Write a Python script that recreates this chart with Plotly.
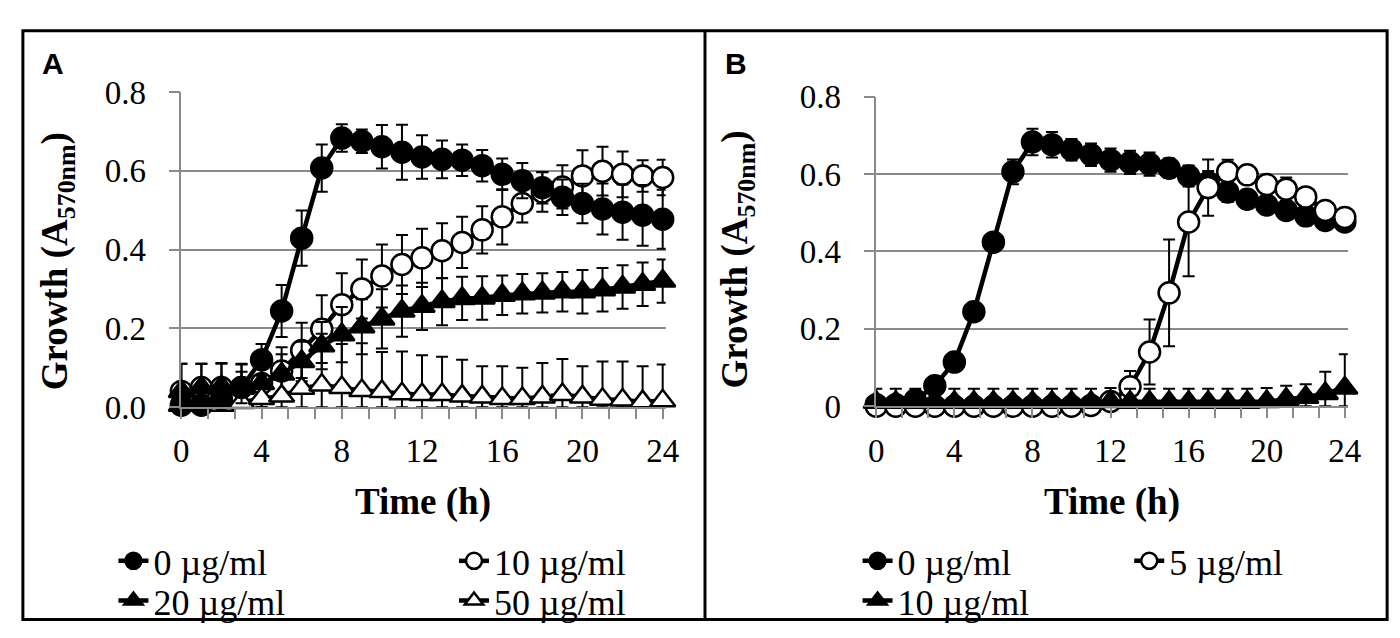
import numpy as np
import plotly.graph_objects as go
from plotly.subplots import make_subplots

hours = list(range(25))

# Panel A
a_names = ['0 µg/ml', '10 µg/ml', '20 µg/ml', '50 µg/ml']
a_0 = [0.005, 0.005, 0.02, 0.05, 0.12, 0.244, 0.429, 0.607, 0.683, 0.675, 0.661, 0.647, 0.635,
       0.629, 0.627, 0.613, 0.591, 0.575, 0.557, 0.533, 0.517, 0.503, 0.495, 0.487, 0.477]
a_0_err = [0.04, 0.04, 0.04, 0.04, 0.04, 0.066, 0.07, 0.06, 0.035, 0.03, 0.055, 0.07, 0.055,
           0.048, 0.04, 0.04, 0.04, 0.045, 0.04, 0.045, 0.05, 0.065, 0.07, 0.077, 0.075]
a_10 = [0.04, 0.05, 0.05, 0.05, 0.06, 0.092, 0.144, 0.198, 0.26, 0.3, 0.333, 0.362, 0.379,
        0.397, 0.418, 0.45, 0.483, 0.517, 0.546, 0.559, 0.587, 0.599, 0.591, 0.587, 0.583]
a_10_err = [0.07, 0.06, 0.06, 0.06, 0.06, 0.06, 0.07, 0.086, 0.08, 0.075, 0.08, 0.075, 0.074,
            0.07, 0.065, 0.06, 0.07, 0.048, 0.05, 0.055, 0.065, 0.062, 0.058, 0.04, 0.045]
a_20 = [0.04, 0.05, 0.052, 0.048, 0.06, 0.084, 0.116, 0.156, 0.184, 0.204, 0.224, 0.244, 0.256,
        0.268, 0.276, 0.277, 0.284, 0.288, 0.29, 0.293, 0.293, 0.298, 0.305, 0.312, 0.32]
a_20_err = [0.07, 0.06, 0.06, 0.06, 0.05, 0.05, 0.05, 0.06, 0.07, 0.07, 0.075, 0.065, 0.06,
            0.06, 0.055, 0.055, 0.05, 0.05, 0.05, 0.05, 0.055, 0.055, 0.055, 0.055, 0.055]
a_50 = [0.005, 0.005, 0.005, 0.012, 0.022, 0.028, 0.048, 0.056, 0.05, 0.042, 0.04, 0.034, 0.032,
        0.032, 0.028, 0.026, 0.022, 0.022, 0.026, 0.032, 0.026, 0.02, 0.018, 0.014, 0.016]
a_50_err = [0.03, 0.03, 0.03, 0.03, 0.03, 0.04, 0.06, 0.13, 0.11, 0.12, 0.1, 0.107, 0.1,
            0.096, 0.092, 0.078, 0.082, 0.078, 0.086, 0.09, 0.078, 0.096, 0.098, 0.09, 0.092]

# Panel B
b_names = ['0 µg/ml', '5 µg/ml', '10 µg/ml']
b_0 = [0.004, 0.004, 0.016, 0.053, 0.114, 0.244, 0.424, 0.606, 0.683, 0.676, 0.663, 0.65, 0.636,
       0.63, 0.626, 0.615, 0.595, 0.578, 0.554, 0.535, 0.52, 0.506, 0.492, 0.48, 0.476]
b_0_err = [0.02, 0.02, 0.02, 0.01, 0.01, 0.01, 0.023, 0.032, 0.034, 0.033, 0.028, 0.029, 0.03,
           0.03, 0.03, 0.025, 0.027, 0.03, 0.026, 0.023, 0.024, 0.022, 0.025, 0.023, 0.02]
b_5 = [0, 0, 0, 0, 0, 0, 0, 0, 0, 0, 0, 0.002, 0.012, 0.05, 0.14, 0.293, 0.476, 0.565, 0.606,
       0.598, 0.573, 0.561, 0.541, 0.506, 0.488]
b_5_err = [0, 0, 0, 0, 0, 0, 0, 0, 0, 0, 0, 0.005, 0.01, 0.041, 0.084, 0.138, 0.14, 0.073, 0.031,
           0.024, 0.02, 0.03, 0.02, 0.02, 0.015]
b_10 = [0.01, 0.01, 0.01, 0.01, 0.01, 0.01, 0.01, 0.01, 0.01, 0.01, 0.01, 0.01, 0.012, 0.01,
        0.01, 0.01, 0.01, 0.01, 0.01, 0.01, 0.012, 0.018, 0.023, 0.033, 0.047]
b_10_err = [0.035] * 22 + [0.034, 0.056, 0.087]

serif = 'Liberation Serif'

# marker style per series: (symbol, fill, size)
styles_a = [('circle', 'black', 21), ('circle', 'white', 21), ('triangle-up', 'black', 22), ('triangle-up', 'white', 22)]
styles_b = [('circle', 'black', 21), ('circle', 'white', 21), ('triangle-up', 'black', 22)]

fig = make_subplots(rows=1, cols=2)


def add_series(y, err, name, style, col, legend_id):
    y = np.array(y)
    err = np.array(err)
    sym, fill, size = style
    fig.add_trace(go.Scatter(
        x=hours, y=y, name=name, mode='lines+markers',
        line=dict(color='black', width=4.5),
        marker=dict(symbol=sym, color=fill, size=size, line=dict(color='black', width=2.5)),
        error_y=dict(type='data', array=err, arrayminus=np.minimum(err, y),
                     color='black', thickness=2, width=6),
        cliponaxis=False, legend=legend_id, showlegend=True,
    ), row=1, col=col)


# draw order: later on top
order_a = [1, 2, 3, 0]
legend_ids_a = ['legend', 'legend2', 'legend3', 'legend4']
series_a = [(a_0, a_0_err), (a_10, a_10_err), (a_20, a_20_err), (a_50, a_50_err)]
for i in order_a:
    add_series(series_a[i][0], series_a[i][1], a_names[i], styles_a[i], 1, legend_ids_a[i])

legend_ids_b = ['legend5', 'legend6', 'legend7']
series_b = [(b_0, b_0_err), (b_5, b_5_err), (b_10, b_10_err)]
for i in range(3):
    add_series(series_b[i][0], series_b[i][1], b_names[i], styles_b[i], 2, legend_ids_b[i])

W, H = 1400, 638


def px(x):
    return x / W


def py(y):
    return 1 - y / H


grey = '#8a8a8a'
xcommon = dict(
    tickmode='array', tickvals=[0, 4, 8, 12, 16, 20, 24], ticks='outside', ticklen=10,
    tickcolor=grey, tickwidth=1.5, showline=True, linecolor=grey, linewidth=1.5,
    showgrid=False, zeroline=False, ticklabelstandoff=4,
    tickfont=dict(family=serif, size=33, color='black'),
    minor=dict(dtick=4 / 3, tick0=0, ticks='outside', ticklen=10, tickcolor=grey, tickwidth=1.5, showgrid=False),
)
ycommon = dict(
    range=[0, 0.8], dtick=0.2, ticks='outside', ticklen=11, tickcolor=grey, tickwidth=1.5,
    showline=True, linecolor=grey, linewidth=1.5, showgrid=True, gridcolor=grey, gridwidth=1.5,
    zeroline=False, ticklabelstandoff=16,
    tickfont=dict(family=serif, size=33, color='black'),
)

fig.update_xaxes(domain=[px(168), px(660)], range=[0, 24 * 492 / 489], row=1, col=1, **xcommon)
fig.update_xaxes(domain=[px(874), px(1353)], range=[0, 24 * 479 / 476], row=1, col=2, **xcommon)
fig.update_yaxes(domain=[py(405), py(71)], tickformat='.1f', row=1, col=1, **ycommon)
fig.update_yaxes(domain=[py(404), py(76)], row=1, col=2, **ycommon)

ytitle = 'Growth (A<sub>570nm</sub>)'
annos = [
    dict(text='<b>A</b>', x=px(38), y=py(41)),
    dict(text='<b>B</b>', x=px(731), y=py(41)),
]
for a in annos:
    a.update(xref='paper', yref='paper', showarrow=False, xanchor='center', yanchor='middle',
             font=dict(family='Liberation Sans', size=30, color='black'))
titles = [
    dict(text='<b>Time (h)</b>', x=px(414), y=py(505)),
    dict(text='<b>Time (h)</b>', x=px(1114), y=py(505)),
    dict(text='<b>' + ytitle + '</b>', x=px(43), y=py(250), textangle=-90),
    dict(text='<b>' + ytitle + '</b>', x=px(733), y=py(248), textangle=-90),
]
for a in titles:
    a.update(xref='paper', yref='paper', showarrow=False, xanchor='center', yanchor='middle',
             font=dict(family=serif, size=37, color='black'))

# text start x and row centre y of each legend entry
legend_pos = {
    'legend': (143, 568), 'legend2': (489, 568), 'legend3': (143, 610), 'legend4': (489, 610),
    'legend5': (899, 568), 'legend6': (1175, 568), 'legend7': (899, 610),
}
legends = {}
for key, (lx, ly) in legend_pos.items():
    legends[key] = dict(x=px(lx - 44), y=py(ly), xanchor='left', yanchor='middle',
                        bgcolor='rgba(0,0,0,0)', borderwidth=0, visible=True,
                        font=dict(family=serif, size=36, color='black'))

fig.update_layout(
    width=W, height=H, margin=dict(l=0, r=0, t=0, b=0),
    plot_bgcolor='white', paper_bgcolor='white', showlegend=True,
    font=dict(family=serif, color='black'),
    annotations=annos + titles,
    shapes=[
        dict(type='rect', xref='paper', yref='paper', x0=px(7), x1=px(1393), y0=py(630), y1=py(6),
             line=dict(color='black', width=3)),
        dict(type='line', xref='paper', yref='paper', x0=px(700), x1=px(700), y0=py(630), y1=py(6),
             line=dict(color='black', width=3)),
    ],
    **legends,
)

fig.write_html("out.html")
